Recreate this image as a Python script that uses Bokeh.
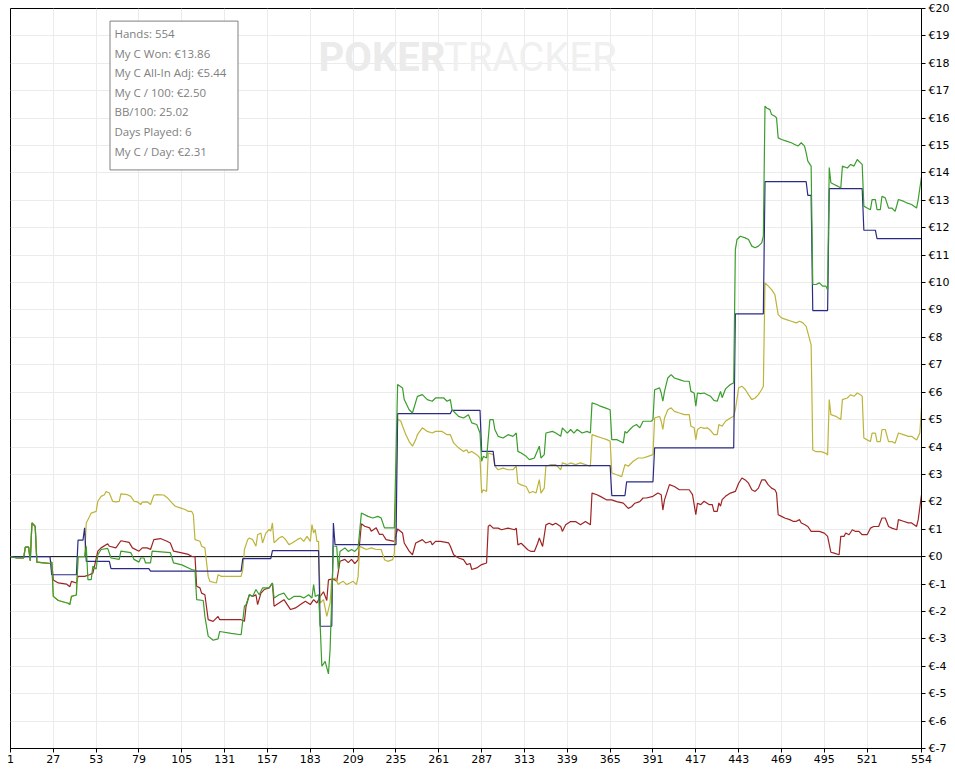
from bokeh.plotting import figure
from bokeh.models import Range1d, FixedTicker, Span, Label, BoxAnnotation
from bokeh.embed import file_html
from bokeh.resources import INLINE

# ---------------- data (hand number, euros) ----------------
x_ticks = [1, 27, 53, 79, 105, 131, 157, 183, 209, 235, 261, 287, 313, 339, 365,
           391, 417, 443, 469, 495, 521, 554]
y_ticks = list(range(-7, 21))
y_tick_labels = {v: "€" + str(v) for v in y_ticks}

stats_lines = ["Hands: 554", "My C Won: €13.86", "My C All-In Adj: €5.44",
               "My C / 100: €2.50", "BB/100: 25.02", "Days Played: 6", "My C / Day: €2.31"]

# My C Won (green)
won_pts = [(1,0.0),(5,-0.05),(9,-0.05),(10,0.35),(12,0.35),(13,-0.15),(14,1.23),(16,1.1),(17,-0.2),
    (25,-0.25),(26,-0.2),(27,-1.45),(30,-1.6),(36,-1.7),(37,-1.75),(38,-1.45),(41,-1.4),(42,0.0),
    (46,0.0),(47,0.38),(48,-0.84),(50,-0.84),(51,-0.35),(53,-0.45),(54,0.07),(56,0.26),(60,0.3),
    (62,-0.05),(67,-0.1),(68,0.2),(74,0.15),(76,-0.1),(79,-0.2),(80,-0.05),(82,-0.05),(83,-0.23),
    (86,-0.23),(87,0.2),(98,0.15),(100,-0.23),(105,-0.3),(111,-0.47),(113,-0.5),(114,-1.57),
    (118,-1.6),(119,-2.18),(121,-2.9),(124,-3.05),(127,-3.0),(128,-2.73),(135,-2.8),(141,-2.85),
    (143,-1.81),(144,-1.75),(146,-1.39),(148,-1.45),(150,-1.2),(152,-1.39),(154,-1.14),(158,-1.14),
    (160,-0.96),(161,-1.51),(164,-1.39),(167,-1.33),(169,-1.51),(170,-1.57),(173,-1.45),(177,-1.45),
    (179,-1.51),(182,-1.39),(184,-1.51),(185,-1.02),(186,-1.45),(188,-1.39),(189,-2.54),(190,-4.0),
    (192,-3.82),(194,-4.28),(195,-3.39),(197,0.38),(199,0.38),(200,-0.47),(201,0.19),(204,0.32),
    (206,0.19),(208,0.26),(210,0.19),(212,0.32),(214,1.59),(218,1.47),(221,1.41),(224,1.47),
    (226,1.41),(228,1.05),(234,1.05),(236,6.28),(239,6.15),(240,5.73),(243,5.36),(245,5.24),
    (248,5.85),(251,5.91),(254,5.73),(257,5.67),(259,5.79),(264,5.79),(266,5.67),(268,5.73),
    (269,5.36),(273,5.12),(276,5.06),(279,5.18),(281,4.88),(284,4.82),(286,4.51),(287,3.48),
    (288,3.66),(290,3.6),(292,5.0),(294,5.0),(295,4.64),(297,4.39),(300,4.33),(303,4.45),
    (306,4.39),(308,4.51),(309,3.84),(311,3.78),(314,3.66),(316,3.54),(319,3.6),(322,4.03),
    (323,3.6),(325,3.72),(326,4.51),(330,4.57),(332,4.51),(335,4.39),(336,4.7),(339,4.51),
    (341,4.64),(343,4.51),(345,4.64),(348,4.51),(351,4.57),(353,4.51),(354,5.61),(357,5.55),
    (359,5.49),(362,5.43),(365,5.36),(366,4.27),(369,4.27),(371,4.21),(373,4.15),(374,4.57),
    (375,4.51),(377,4.64),(379,4.76),(381,4.82),(383,4.7),(385,4.94),(390,4.94),(391,5.0),
    (392,6.09),(395,6.16),(396,5.97),(397,5.67),(398,6.03),(400,6.52),(402,6.64),(404,6.52),
    (407,6.46),(410,6.4),(413,6.4),(414,6.03),(416,5.97),(417,5.49),(418,5.97),(420,5.95),
    (422,5.97),(424,5.91),(426,5.85),(428,5.7),(430,5.67),(432,6.03),(433,5.8),(435,6.12),
    (438,6.28),(440,6.34),(441,11.2),(442,11.57),(444,11.69),(447,11.63),(449,11.57),(451,11.33),
    (453,11.27),(455,11.33),(457,11.45),(458,11.69),(459,16.44),(460,16.37),(462,16.31),
    (463,16.13),(465,16.07),(466,16.01),(467,15.28),(469,15.22),(472,15.16),(475,15.1),
    (477,15.04),(479,14.98),(481,15.1),(483,14.98),(484,14.73),(485,14.43),(487,14.25),
    (488,9.93),(490,9.93),(492,9.99),(494,9.87),(496,9.87),(497,9.74),(498,14.2),(499,13.64),
    (501,13.58),(503,13.52),(505,13.45),(506,14.25),(509,14.18),(511,14.31),(513,14.25),
    (515,14.49),(517,14.37),(518,14.31),(519,12.79),(521,12.72),(523,12.66),(524,13.03),
    (526,13.03),(527,12.66),(529,12.66),(530,13.15),(532,13.09),(534,12.72),(536,12.72),
    (538,12.6),(540,13.03),(543,12.97),(545,12.91),(548,12.85),(551,12.72),(552,13.03),(554,13.86)]

# My C All-In Adj (olive)
allin_pts = [(1,0.0),(5,-0.05),(9,-0.05),(10,0.35),(12,0.35),(13,-0.15),(14,1.23),(16,1.1),(17,-0.2),
    (25,-0.25),(26,-0.2),(27,-1.45),(30,-1.6),(36,-1.7),(37,-1.75),(38,-1.45),(41,-1.4),(42,0.0),
    (46,0.0),(47,1.23),(48,1.35),(50,1.59),(53,1.65),(54,2.02),(56,2.2),(58,2.26),(59,2.38),
    (61,2.32),(63,2.02),(65,2.0),(67,2.02),(68,2.29),(72,2.26),(74,2.2),(76,2.02),(78,2.0),
    (80,1.9),(81,1.99),(84,2.0),(86,1.9),(88,2.24),(90,2.26),(94,2.25),(96,2.16),(99,1.96),
    (101,1.84),(104,1.78),(107,1.72),(109,1.65),(111,1.65),(112,1.53),(113,0.62),(116,0.56),
    (117,0.38),(119,0.32),(121,-0.72),(122,-0.9),(126,-0.96),(127,-0.66),(129,-0.72),(141,-0.72),
    (142,-0.47),(143,0.26),(145,0.62),(146,0.68),(148,0.62),(150,0.38),(151,0.8),(153,0.86),
    (154,0.5),(156,0.86),(158,0.99),(159,0.93),(160,1.23),(161,0.5),(164,0.68),(166,0.74),
    (168,0.62),(170,0.44),(172,0.5),(175,0.62),(177,0.68),(179,0.56),(181,0.74),(183,0.56),
    (184,1.17),(185,0.86),(186,0.99),(187,0.56),(188,0.56),(189,-1.69),(191,-1.57),(193,-2.18),
    (195,-1.69),(196,-0.84),(198,-0.78),(200,-1.02),(201,-0.96),(203,-0.9),(205,-1.02),
    (207,-0.96),(209,-0.9),(211,-1.02),(212,-0.72),(213,0.38),(215,0.32),(217,0.26),(220,0.32),
    (223,0.26),(226,0.26),(228,-0.11),(230,-0.17),(233,-0.11),(234,0.13),(236,5.02),(238,4.94),
    (239,4.76),(241,4.45),(243,4.2),(245,4.03),(247,4.27),(248,4.45),(251,4.7),(254,4.57),
    (257,4.51),(259,4.57),(263,4.57),(266,4.45),(268,4.45),(270,4.15),(273,3.97),(276,3.84),
    (278,3.9),(279,3.78),(281,3.84),(284,3.72),(286,3.6),(287,2.32),(288,2.44),(290,2.38),
    (291,3.78),(294,3.72),(295,3.3),(297,3.17),(300,3.23),(303,3.17),(306,3.17),(308,3.3),
    (309,2.68),(311,2.62),(314,2.56),(316,2.32),(318,2.38),(320,2.32),(322,2.81),(323,2.32),
    (325,2.5),(326,3.3),(329,3.36),(332,3.36),(335,3.17),(336,3.42),(339,3.36),(341,3.42),
    (344,3.36),(347,3.42),(350,3.36),(353,3.3),(354,4.45),(357,4.39),(360,4.33),(363,4.27),
    (365,4.21),(366,3.05),(369,2.99),(372,2.92),(374,3.36),(376,3.3),(379,3.48),(382,3.6),
    (385,3.6),(388,3.66),(391,3.72),(392,5.06),(395,5.12),(396,4.94),(397,4.64),(398,5.06),
    (400,5.36),(402,5.43),(404,5.3),(407,5.24),(410,5.18),(413,5.18),(414,4.76),(416,4.7),
    (417,4.27),(418,4.64),(420,4.72),(422,4.68),(424,4.7),(426,4.6),(428,4.45),(430,4.45),
    (431,4.82),(433,4.76),(435,4.94),(438,5.06),(440,5.12),(441,5.36),(443,6.16),(445,6.22),
    (447,6.1),(449,5.91),(451,5.73),(453,5.79),(455,5.91),(457,6.1),(458,6.22),(459,9.99),
    (461,9.87),(463,9.74),(465,9.56),(467,8.83),(469,8.71),(472,8.65),(475,8.59),(478,8.53),
    (480,8.59),(482,8.53),(484,8.4),(487,7.73),(488,3.89),(490,3.83),(493,3.83),(496,3.77),
    (497,3.71),(498,5.73),(499,5.18),(502,5.12),(505,5.0),(506,5.73),(509,5.79),(511,5.91),
    (513,5.85),(515,5.97),(517,5.91),(518,5.85),(519,4.33),(521,4.26),(523,4.2),(524,4.51),
    (526,4.51),(527,4.2),(529,4.2),(530,4.64),(532,4.64),(534,4.2),(536,4.2),(538,4.14),
    (540,4.51),(543,4.45),(546,4.39),(548,4.39),(551,4.26),(553,4.51),(554,5.44)]

# Showdown winnings (navy)
showdown_pts = [(1,0.0),(25,0.0),(26,-0.66),(41,-0.66),(42,0.6),(45,0.6),(46,1.05),(47,-0.17),
    (61,-0.17),(62,-0.44),(85,-0.44),(86,-0.53),(141,-0.53),(142,-0.07),(159,-0.07),(160,0.22),
    (188,0.22),(189,-2.54),(196,-2.54),(197,1.23),(198,0.44),(235,0.44),(236,5.22),(268,5.22),
    (269,5.34),(286,5.34),(287,3.84),(294,3.84),(295,3.32),(365,3.32),(366,2.23),(374,2.23),
    (375,2.73),(391,2.73),(392,3.97),(440,3.97),(441,8.86),(458,8.86),(459,13.68),(484,13.68),
    (485,13.18),(487,13.18),(488,8.98),(497,8.98),(498,13.43),(518,13.43),(519,11.91),
    (526,11.91),(527,11.6),(554,11.6)]

# Non-showdown winnings (dark red)
nonsd_pts = [(1,0.0),(5,-0.05),(9,-0.05),(10,0.35),(12,0.35),(13,-0.15),(14,1.23),(16,1.1),(17,-0.2),
    (25,-0.25),(26,-0.2),(27,-0.85),(30,-0.96),(35,-1.0),(37,-1.1),(38,-0.9),(41,-0.96),(42,-0.72),
    (46,-0.72),(49,-0.66),(51,-0.6),(52,-0.35),(54,0.2),(56,0.32),(60,0.47),(61,0.38),(65,0.32),
    (68,0.58),(73,0.52),(75,0.32),(79,0.2),(81,0.32),(84,0.32),(86,0.26),(88,0.62),(92,0.66),
    (96,0.56),(98,0.5),(100,0.2),(105,0.14),(109,0.08),(111,0.01),(113,0.0),(114,-1.08),
    (116,-1.14),(117,-1.33),(119,-1.39),(121,-2.3),(124,-2.36),(127,-2.18),(128,-2.3),(141,-2.3),
    (143,-2.36),(144,-1.81),(146,-1.39),(148,-1.45),(150,-1.39),(151,-1.75),(153,-1.33),
    (155,-1.2),(158,-1.14),(160,-0.96),(161,-1.81),(164,-1.69),(167,-1.57),(169,-1.75),
    (171,-1.93),(174,-1.87),(177,-1.75),(180,-1.63),(183,-1.75),(185,-1.57),(187,-1.69),
    (189,-1.45),(191,-1.28),(193,-1.6),(194,-0.85),(196,-0.82),(198,-0.85),(199,-0.9),
    (201,-0.17),(204,-0.1),(206,-0.22),(208,-0.1),(210,-0.25),(212,-0.12),(214,1.2),(216,1.11),
    (219,1.05),(220,0.93),(223,1.05),(225,0.81),(227,0.81),(229,0.62),(234,0.56),(236,1.01),
    (239,0.86),(240,0.5),(243,0.2),(245,0.07),(247,0.5),(251,0.62),(253,0.5),(256,0.56),
    (257,0.43),(259,0.56),(262,0.56),(267,0.5),(268,0.38),(270,0.07),(273,-0.05),(276,-0.11),
    (278,-0.29),(280,-0.25),(281,-0.47),(284,-0.41),(287,-0.29),(290,-0.23),(291,1.1),
    (292,1.16),(294,1.04),(297,1.04),(299,0.98),(303,1.04),(307,0.98),(308,1.04),(309,0.43),
    (311,0.49),(313,0.37),(315,0.25),(317,0.19),(319,0.19),(321,0.49),(322,0.68),(324,0.37),
    (326,1.16),(328,1.22),(330,1.16),(332,1.22),(335,1.1),(336,0.92),(338,1.16),(341,1.28),
    (344,1.28),(347,1.16),(350,1.28),(353,1.16),(354,2.32),(357,2.26),(359,2.2),(363,2.07),
    (366,2.07),(369,2.01),(373,1.95),(376,1.76),(378,1.82),(380,1.95),(383,2.01),(385,2.14),
    (387,2.14),(391,2.2),(394,2.32),(396,2.26),(397,1.7),(398,2.07),(401,2.63),(404,2.56),
    (407,2.44),(413,2.44),(415,2.26),(417,1.53),(418,1.95),(420,1.9),(422,2.02),(425,1.9),
    (427,1.9),(428,1.65),(430,1.65),(431,1.96),(432,1.84),(433,2.08),(435,2.2),(438,2.32),
    (441,2.38),(443,2.68),(445,2.87),(447,2.8),(449,2.68),(451,2.44),(453,2.38),(455,2.5),
    (457,2.8),(459,2.8),(461,2.62),(463,2.5),(465,2.44),(466,2.32),(467,1.53),(469,1.47),
    (471,1.41),(474,1.35),(476,1.29),(478,1.29),(480,1.35),(481,1.23),(483,1.17),(485,1.1),
    (487,0.92),(490,0.92),(492,0.92),(495,0.86),(497,0.74),(499,0.16),(501,0.13),(504,0.07),
    (505,0.74),(507,0.74),(508,0.86),(510,0.8),(512,0.98),(514,0.92),(516,0.92),(518,0.8),
    (521,0.8),(523,1.04),(525,1.1),(528,1.1),(530,1.41),(532,1.41),(534,1.1),(536,1.04),
    (539,0.98),(540,1.35),(543,1.29),(546,1.23),(548,1.23),(551,1.1),(552,1.35),(554,2.26)]

series = [
    (nonsd_pts, "#9e2424"),
    (allin_pts, "#bdb43a"),
    (showdown_pts, "#2b2b86"),
    (won_pts, "#3a9d2c"),
]

# ---------------- figure ----------------
p = figure(frame_width=911, frame_height=740,
           x_range=Range1d(1, 554), y_range=Range1d(-7, 20),
           y_axis_location="right", output_backend="svg", toolbar_location=None,
           min_border_left=10, min_border_top=8, min_border_right=0, min_border_bottom=0,
           background_fill_color="white", border_fill_color="white")
p.outline_line_color = "black"
p.outline_line_alpha = 1.0

for ax in (p.xaxis, p.yaxis):
    ax.axis_line_color = "black"
    ax.major_tick_line_color = "black"
    ax.minor_tick_line_color = None
    ax.major_tick_in = 0
    ax.major_tick_out = 4
    ax.major_label_text_font = "DejaVu Sans"
    ax.major_label_text_font_size = "11px"
    ax.major_label_text_color = "black"

p.xaxis.ticker = FixedTicker(ticks=x_ticks)
p.xaxis.major_label_standoff = 2
p.yaxis.ticker = FixedTicker(ticks=y_ticks)
p.yaxis.major_label_overrides = y_tick_labels
p.yaxis.major_label_standoff = 3

p.xgrid.grid_line_color = "#ebebeb"
p.ygrid.grid_line_color = "#ebebeb"

# watermark
p.add_layout(Label(x=188, y=18.2, text="POKER", text_font="Roboto", text_font_style="bold",
                   text_font_size="40px", text_color="#ebebeb", text_baseline="middle",
                   level="underlay"))
p.add_layout(Label(x=264, y=18.2, text="TRACKER", text_font="Roboto", text_font_style="normal",
                   text_font_size="40px", text_color="#f0f0f0", text_baseline="middle",
                   level="underlay"))

p.add_layout(Span(location=0, dimension="width", line_color="black", line_width=1,
                  level="underlay"))

for pts, color in series:
    xs = [h for h, v in pts]
    ys = [v for h, v in pts]
    p.line(xs, ys, line_color=color, line_width=1.2)

# stats box
p.add_layout(BoxAnnotation(left=61.4, right=139.1, top=19.54, bottom=14.11,
                           fill_color="white", fill_alpha=1.0,
                           line_color="#808080", line_width=1, line_alpha=1.0))
for i, t in enumerate(stats_lines):
    p.add_layout(Label(x=64.1, y=19.09 - i * 0.715, text=t, text_font="Open Sans",
                       text_font_size="11.5px", text_color="#808080", text_baseline="middle"))

open("out.html", "w").write(file_html(p, INLINE))
